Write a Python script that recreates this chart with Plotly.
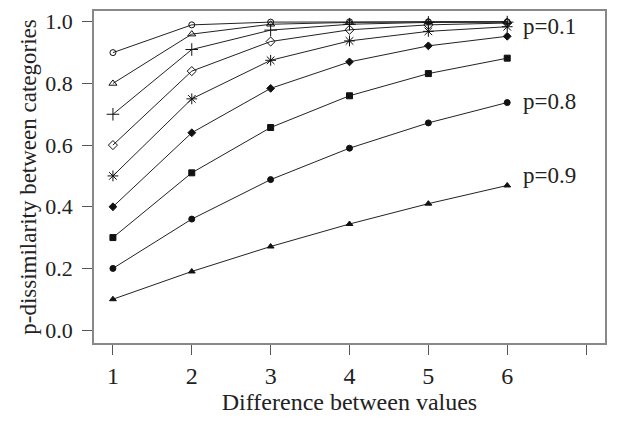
import plotly.graph_objects as go

diff = [1, 2, 3, 4, 5, 6]
p_labels = ["p=0.1", "p=0.2", "p=0.3", "p=0.4", "p=0.5", "p=0.6", "p=0.7", "p=0.8", "p=0.9"]
values = {
    "p=0.1": [0.90, 0.99, 0.999, 1.000, 1.000, 1.000],
    "p=0.2": [0.80, 0.96, 0.992, 0.998, 1.000, 1.000],
    "p=0.3": [0.70, 0.91, 0.973, 0.992, 0.998, 0.999],
    "p=0.4": [0.60, 0.84, 0.936, 0.974, 0.990, 0.996],
    "p=0.5": [0.50, 0.75, 0.875, 0.938, 0.969, 0.984],
    "p=0.6": [0.40, 0.64, 0.784, 0.870, 0.922, 0.953],
    "p=0.7": [0.30, 0.51, 0.657, 0.760, 0.832, 0.882],
    "p=0.8": [0.20, 0.36, 0.488, 0.590, 0.672, 0.738],
    "p=0.9": [0.10, 0.19, 0.271, 0.344, 0.410, 0.469],
}
symbols = ["circle-open", "triangle-up-open", "cross-thin-open", "diamond-open",
           "asterisk-open", "diamond", "square", "circle", "triangle-up"]
sizes = [6, 7, 9, 7, 9, 6, 6, 6, 6]
labelled = {"p=0.1": 0.984, "p=0.8": 0.742, "p=0.9": 0.50}

fig = go.Figure()
for lab, sym, sz in zip(p_labels, symbols, sizes):
    fig.add_trace(go.Scatter(
        x=diff, y=values[lab], mode="lines+markers", name=lab,
        line=dict(color="#222222", width=1),
        marker=dict(symbol=sym, size=sz, color="#111111",
                    line=dict(color="#111111", width=1)),
        showlegend=False))

for lab, yv in labelled.items():
    fig.add_annotation(x=6.18, y=yv, text=lab, showarrow=False, xanchor="left",
                       yanchor="middle", font=dict(family="Liberation Serif", size=23, color="#222222"))

fig.update_layout(
    width=618, height=425,
    margin=dict(l=94, r=13, t=9, b=82),
    paper_bgcolor="white", plot_bgcolor="white",
    font=dict(family="Liberation Serif", color="#222222"),
)
fig.update_xaxes(
    range=[0.76, 7.24], tickvals=[1, 2, 3, 4, 5, 6, 7], ticktext=["1", "2", "3", "4", "5", "6", ""],
    ticks="outside", ticklen=10, tickcolor="#555555", showgrid=False, zeroline=False,
    showline=True, linecolor="#888888", linewidth=1.5, mirror=True,
    tickfont=dict(size=24), title=dict(text="Difference between values", font=dict(size=24), standoff=4))
fig.update_yaxes(
    range=[-0.042, 1.035], tickvals=[0, 0.2, 0.4, 0.6, 0.8, 1.0],
    ticktext=["0.0", "0.2", "0.4", "0.6", "0.8", "1.0"],
    ticks="outside", ticklen=10, tickcolor="#555555", showgrid=False, zeroline=False,
    showline=True, linecolor="#888888", linewidth=1.5, mirror=True, ticklabelstandoff=5,
    tickfont=dict(size=22), title=dict(text="p-dissimilarity between categories", font=dict(size=23), standoff=2))

fig.write_html("out.html")
